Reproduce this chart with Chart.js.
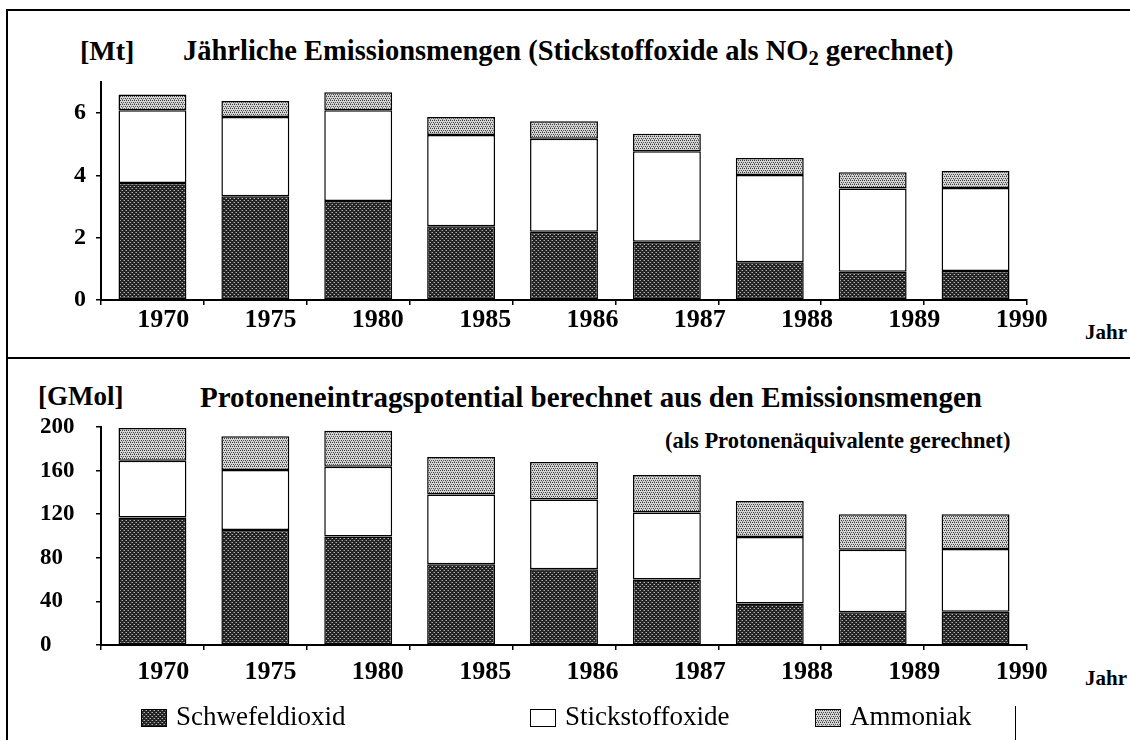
<!DOCTYPE html>
<html>
<head>
<meta charset="utf-8">
<script src="https://cdn.jsdelivr.net/npm/chart.js"></script>
<style>
body { margin: 0; background: #fff; }
#page { position: relative; width: 1130px; height: 740px; overflow: hidden; background: #fff;
        font-family: "Liberation Serif", "Times New Roman", serif; color: #000; }
.txt { position: absolute; white-space: nowrap; line-height: 1; font-weight: bold; }
.txt sub { font-size: 0.72em; vertical-align: -0.25em; line-height: 0; }
.line { position: absolute; background: #000; }
canvas { position: absolute; left: 0; }
.leg { position: absolute; white-space: nowrap; line-height: 1; font-size: 27px; font-weight: normal; }
.sw { position: absolute; width: 24px; height: 16px; border: 1px solid #000; }
</style>
</head>
<body>
<div id="page">
  <div class="line" style="left:6px;top:9px;width:1124px;height:2px"></div>
  <div class="line" style="left:6px;top:9px;width:2px;height:731px"></div>
  <div class="line" style="left:6px;top:357px;width:1124px;height:2px"></div>
  <div class="line" style="left:1015px;top:706px;width:1px;height:34px"></div>

  <div class="txt" style="left:80px;top:37px;font-size:28px">[Mt]</div>
  <div class="txt" style="left:183px;top:37px;font-size:28.5px">Jährliche Emissionsmengen (Stickstoffoxide als NO<sub>2</sub> gerechnet)</div>
  <div class="txt" style="left:1085px;top:322px;font-size:21px">Jahr</div>

  <div class="txt" style="left:38px;top:383px;font-size:27px">[GMol]</div>
  <div class="txt" style="left:200px;top:383px;font-size:29px">Protoneneintragspotential berechnet aus den Emissionsmengen</div>
  <div class="txt" style="left:665px;top:430px;font-size:22.5px">(als Protonenäquivalente gerechnet)</div>
  <div class="txt" style="left:1085px;top:668px;font-size:21px">Jahr</div>

  <canvas id="massChart" width="1130" height="358" style="top:0px"></canvas>
  <canvas id="protChart" width="1130" height="382" style="top:358px"></canvas>
  <div id="legend"></div>
</div>
<script>
// Jahre und Werte
const years = ['1970', '1975', '1980', '1985', '1986', '1987', '1988', '1989', '1990'];
const seriesNames = ['Schwefeldioxid', 'Stickstoffoxide', 'Ammoniak'];

// Emissionsmengen [Mt]
const massSO2 = [3.76, 3.33, 3.18, 2.37, 2.19, 1.87, 1.21, 0.91, 0.93];
const massNOx = [2.33, 2.55, 2.91, 2.93, 2.99, 2.91, 2.80, 2.67, 2.67];
const massNH3 = [0.51, 0.51, 0.58, 0.58, 0.56, 0.56, 0.55, 0.52, 0.54];

// Protoneneintragspotential [GMol]
const protSO2 = [117, 105.5, 99.5, 74, 69.5, 60, 38, 30, 30.5];
const protNOx = [52, 55, 64, 64, 64, 61.5, 61, 57.5, 57.5];
const protNH3 = [30, 31, 33, 34.5, 34.5, 34.5, 33, 32.5, 32];

const FONT = '"Liberation Serif", "Times New Roman", serif';

function makeTile(base, dots) {
    const c = document.createElement('canvas');
    c.width = 4; c.height = 4;
    const g = c.getContext('2d');
    g.fillStyle = base;
    g.fillRect(0, 0, 4, 4);
    dots.forEach(d => { g.fillStyle = d[2]; g.fillRect(d[0], d[1], 1, 1); });
    return c;
}

const tiles = [
    makeTile('#222222', [[0, 0, '#b0b0b0'], [2, 2, '#b0b0b0'], [3, 0, '#666666'], [1, 2, '#666666']]),
    makeTile('#ffffff', []),
    makeTile('#d4d4d4', [[0, 0, '#404040'], [2, 0, '#404040'], [1, 2, '#404040'], [3, 2, '#5a5a5a'], [2, 3, '#888888']])
];

function build(canvasId, values, cfg) {
    const ctx = document.getElementById(canvasId).getContext('2d');
    const datasets = values.map((vals, i) => ({
        label: seriesNames[i],
        data: vals,
        backgroundColor: ctx.createPattern(tiles[i], 'repeat'),
        borderColor: '#000',
        borderWidth: 1.5,
        borderSkipped: false,
        barPercentage: 0.66,
        categoryPercentage: 1.0,
        xAxisID: 'x',
        yAxisID: 'y'
    }));

    return new Chart(ctx, {
        type: 'bar',
        data: { labels: years, datasets: datasets },
        options: {
            responsive: false,
            animation: false,
            layout: { padding: { left: cfg.padLeft, right: 103, top: cfg.padTop, bottom: 0 } },
            plugins: { legend: { display: false }, tooltip: { enabled: false } },
            scales: {
                x: {
                    stacked: true,
                    position: 'bottom',
                    ticks: { display: false },
                    grid: { drawOnChartArea: false, drawTicks: true, tickLength: 5, color: '#000', lineWidth: 1.5 },
                    border: { display: true, color: '#000', width: 2 },
                    afterFit: s => { s.height = 0; }
                },
                // eigene Achse nur für die Jahresbeschriftung (im Original etwas weiter gespreizt)
                xl: {
                    type: 'linear',
                    position: 'bottom',
                    offset: false,
                    min: -0.58,
                    max: 8.05,
                    grid: { display: false, drawTicks: false },
                    border: { display: false },
                    afterBuildTicks: s => { s.ticks = years.map((_, i) => ({ value: i })); },
                    ticks: {
                        autoSkip: false,
                        maxRotation: 0,
                        padding: cfg.labelPad,
                        color: '#000',
                        font: { family: FONT, size: 26, weight: 'bold' },
                        callback: v => years[v]
                    },
                    afterFit: s => { s.height = cfg.xHeight; }
                },
                y: {
                    stacked: true,
                    min: 0,
                    max: cfg.max,
                    ticks: {
                        stepSize: cfg.step,
                        padding: cfg.yPad,
                        crossAlign: cfg.crossAlign,
                        color: '#000',
                        font: { family: FONT, size: cfg.ySize, weight: 'bold' },
                        callback: v => (v % cfg.labelEvery === 0 ? String(v) : '')
                    },
                    grid: { drawOnChartArea: false, drawTicks: true, tickLength: 5, color: '#000', lineWidth: 1.5 },
                    border: { display: true, color: '#000', width: 2 },
                    afterFit: s => { s.width = cfg.yWidth; }
                }
            }
        }
    });
}

build('massChart', [massSO2, massNOx, massNH3], {
    padLeft: 0, padTop: 82, yWidth: 101, xHeight: 58, labelPad: 5,
    max: 7, step: 1, labelEvery: 2, ySize: 24, yPad: 10, crossAlign: 'near'
});

build('protChart', [protSO2, protNOx, protNH3], {
    padLeft: 40, padTop: 69, yWidth: 61, xHeight: 95, labelPad: 12,
    max: 200, step: 20, labelEvery: 40, ySize: 23, yPad: 8, crossAlign: 'far'
});

// Legende unten, aus den Reihennamen und Mustern
const legendPos = [[141, 176], [530, 565], [815, 850]];
const legend = document.getElementById('legend');
seriesNames.forEach((name, i) => {
    const sw = document.createElement('div');
    sw.className = 'sw';
    sw.style.left = legendPos[i][0] + 'px';
    sw.style.top = '709px';
    sw.style.backgroundImage = 'url(' + tiles[i].toDataURL() + ')';
    legend.appendChild(sw);
    const t = document.createElement('div');
    t.className = 'leg';
    t.style.left = legendPos[i][1] + 'px';
    t.style.top = '703px';
    t.textContent = name;
    legend.appendChild(t);
});
</script>
</body>
</html>
